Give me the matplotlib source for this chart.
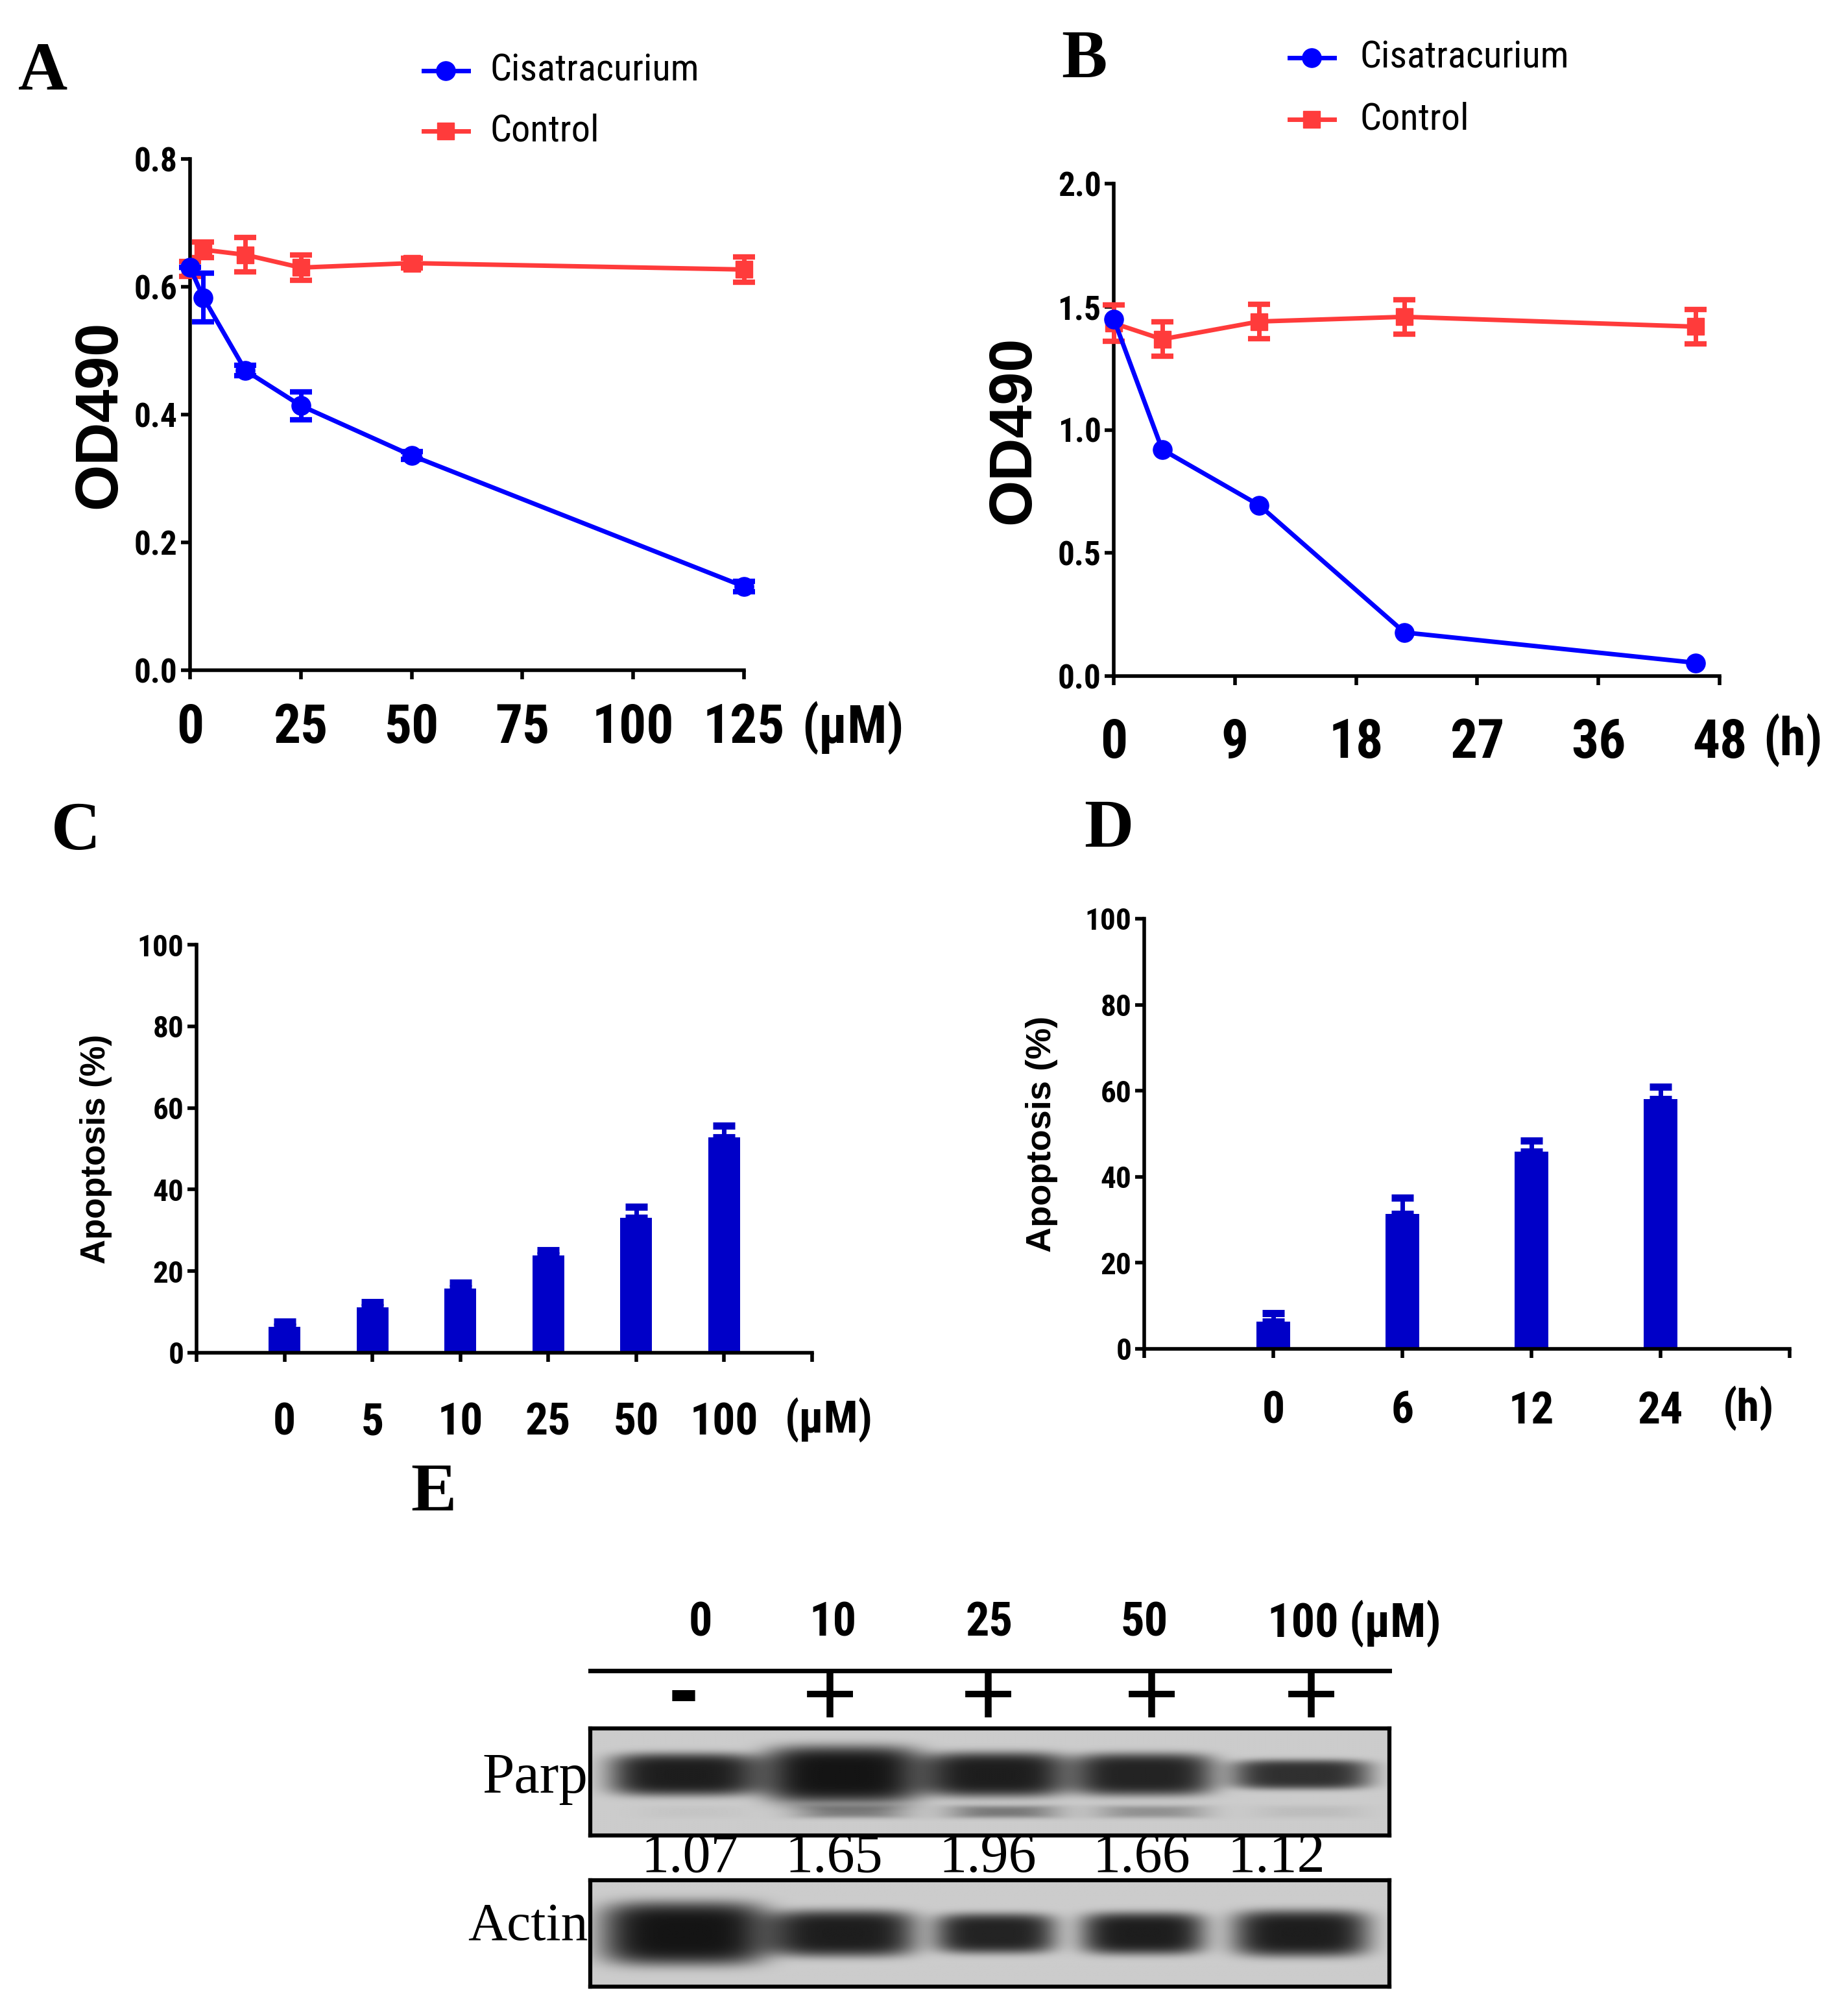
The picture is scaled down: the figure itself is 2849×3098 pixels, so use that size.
import numpy as np
import matplotlib
matplotlib.use("Agg")
import matplotlib.pyplot as plt
from matplotlib.lines import Line2D
from matplotlib import font_manager as fm

# ---------------- data ----------------
# Panel A (dose, µM)
a_dose = [0, 3, 12.5, 25, 50, 125]
a_cis = [0.63, 0.583, 0.469, 0.414, 0.336, 0.131]
a_cis_err = [0.0, 0.038, 0.008, 0.022, 0.006, 0.008]
a_ctl = [0.628, 0.658, 0.650, 0.630, 0.637, 0.627]
a_ctl_err = [0.012, 0.012, 0.027, 0.020, 0.008, 0.020]
a_ticks = [0, 25, 50, 75, 100, 125]

# Panel B (time, h)
b_time = [0, 4, 12, 24, 48]
b_cis = [1.45, 0.92, 0.694, 0.177, 0.054]
b_cis_err = [0.0, 0.01, 0.01, 0.01, 0.01]
b_ctl = [1.433, 1.368, 1.440, 1.459, 1.419]
b_ctl_err = [0.074, 0.070, 0.070, 0.070, 0.070]
b_tick_pos = [0, 10, 20, 30, 40, 50]
b_tick_labels = ["0", "9", "18", "27", "36", "48"]

# Panel C (apoptosis vs dose)
c_labels = ["0", "5", "10", "25", "50", "100"]
c_vals = [6.4, 11.2, 15.7, 23.9, 33.0, 52.8]
c_err = [1.2, 1.2, 1.4, 1.2, 2.7, 2.9]

# Panel D (apoptosis vs time)
d_labels = ["0", "6", "12", "24"]
d_vals = [6.3, 31.3, 45.9, 58.0]
d_err = [2.0, 3.8, 2.5, 3.0]

# Panel E (western blot)
e_doses = ["0", "10", "25", "50", "100 (\u03bcM)"]
e_signs = ["-", "+", "+", "+", "+"]
e_ratio = ["1.07", "1.65", "1.96", "1.66", "1.12"]
parp_full = [0.95, 1.0, 0.95, 0.92, 0.85]
parp_cleaved = [0.04, 0.42, 0.45, 0.32, 0.08]
actin = [1.0, 0.95, 0.92, 0.95, 0.95]

# ---------------- fonts ----------------
avail = {f.name for f in fm.fontManager.ttflist}
cond_stretch = {(f.name, f.stretch) for f in fm.fontManager.ttflist}
NARROW = None
STRETCH = "normal"
for cand in ["Liberation Sans Narrow", "Roboto Condensed", "Open Sans Condensed",
             "Arial Narrow", "DejaVu Sans Condensed"]:
    if cand in avail:
        NARROW = [cand, "Liberation Sans"]
        break
if NARROW is None:
    if ("DejaVu Sans", "condensed") in cond_stretch:
        NARROW = ["DejaVu Sans"]
        STRETCH = "condensed"
    else:
        NARROW = ["Liberation Sans", "DejaVu Sans"]
SANS = ["Liberation Sans", "DejaVu Sans"]
SERIF = ["Liberation Serif", "DejaVu Serif"]

# ---------------- style ----------------
W, H = 2849, 3098
DPI = 100
fig = plt.figure(figsize=(W / DPI, H / DPI), dpi=DPI)
BLUE = "#0000ff"
RED = "#ff3b3b"
BAR = "#0000c8"


def fax(l, t, r, b):
    """axes from pixel box (left, top, right, bottom)."""
    return fig.add_axes([l / W, 1 - b / H, (r - l) / W, (b - t) / H])


def style_axes(ax, ytick_fs, xtick_fs, xpad):
    for s in ["top", "right"]:
        ax.spines[s].set_visible(False)
    for s in ["left", "bottom"]:
        ax.spines[s].set_linewidth(4)
    ax.tick_params(axis="both", direction="out", width=4, length=10, color="black")
    ax.tick_params(axis="y", labelsize=ytick_fs, pad=4)
    ax.tick_params(axis="x", labelsize=xtick_fs, pad=xpad)
    for lab in ax.get_xticklabels() + ax.get_yticklabels():
        lab.set_family(NARROW)
        lab.set_fontstretch(STRETCH)
        lab.set_fontweight("bold")


def panel_letter(ch, x, y):
    fig.text(x / W, 1 - y / H, ch, fontsize=76, fontweight="bold",
             family=SERIF, ha="left", va="baseline")


def ntext(x, y, s, size, **kw):
    fig.text(x / W, 1 - y / H, s, fontsize=size, family=NARROW,
             fontstretch=STRETCH, **kw)


# ---------------- Panel A ----------------
axA = fax(293, 245, 1147, 1033)
axA.errorbar(a_dose, a_ctl, yerr=a_ctl_err, color=RED, marker="s", ms=19,
             lw=5, elinewidth=5, capsize=12, capthick=6, clip_on=False, zorder=3)
axA.errorbar(a_dose, a_cis, yerr=a_cis_err, color=BLUE, marker="o", ms=21,
             lw=5, elinewidth=5, capsize=12, capthick=6, clip_on=False, zorder=4)
axA.set_xlim(0, 125)
axA.set_ylim(0, 0.8)
axA.set_xticks(a_ticks)
axA.set_yticks([0, 0.2, 0.4, 0.6, 0.8])
axA.set_yticklabels(["0.0", "0.2", "0.4", "0.6", "0.8"])
style_axes(axA, 37, 60, 26)
axA.text(-0.163, 0.5, "OD490", transform=axA.transAxes, rotation=90,
         ha="center", va="center", fontsize=66, fontweight="bold", family=SANS)
axA.text(138, -0.113, "(\u03bcM)", transform=axA.get_xaxis_transform(),
         ha="left", va="center", fontsize=58, fontweight="bold", family=NARROW,
         fontstretch=STRETCH)
panel_letter("A", 28, 138)

# legend A
for yy, col, mk, ms, lab in [(109, BLUE, "o", 21, "Cisatracurium"),
                             (202, RED, "s", 19, "Control")]:
    fig.add_artist(Line2D([653 / W, 722 / W], [1 - yy / H] * 2, color=col, lw=5,
                          transform=fig.transFigure))
    fig.add_artist(Line2D([687 / W], [1 - yy / H], color=col, marker=mk, ms=ms,
                          transform=fig.transFigure))
    ntext(756, yy, lab, 42, ha="left", va="center")

# ---------------- Panel B ----------------
axB = fax(1717, 283, 2651, 1042)
axB.errorbar(b_time, b_ctl, yerr=b_ctl_err, color=RED, marker="s", ms=19,
             lw=5, elinewidth=5, capsize=12, capthick=6, clip_on=False, zorder=3)
axB.errorbar(b_time, b_cis, yerr=b_cis_err, color=BLUE, marker="o", ms=21,
             lw=5, elinewidth=5, capsize=0, capthick=0, clip_on=False, zorder=4)
axB.set_xlim(0, 50)
axB.set_ylim(0, 2.0)
axB.set_xticks(b_tick_pos)
axB.set_xticklabels(b_tick_labels)
axB.set_yticks([0, 0.5, 1.0, 1.5, 2.0])
axB.set_yticklabels(["0.0", "0.5", "1.0", "1.5", "2.0"])
style_axes(axB, 37, 60, 36)
axB.text(-0.165, 0.5, "OD490", transform=axB.transAxes, rotation=90,
         ha="center", va="center", fontsize=66, fontweight="bold", family=SANS)
axB.text(53.6, -0.130, "(h)", transform=axB.get_xaxis_transform(),
         ha="left", va="center", fontsize=58, fontweight="bold", family=NARROW,
         fontstretch=STRETCH)
panel_letter("B", 1636, 119)

for yy, col, mk, ms, lab in [(89, BLUE, "o", 21, "Cisatracurium"),
                             (184, RED, "s", 19, "Control")]:
    fig.add_artist(Line2D([1988 / W, 2057 / W], [1 - yy / H] * 2, color=col, lw=5,
                          transform=fig.transFigure))
    fig.add_artist(Line2D([2022 / W], [1 - yy / H], color=col, marker=mk, ms=ms,
                          transform=fig.transFigure))
    ntext(2097, yy, lab, 42, ha="left", va="center")

# ---------------- Panel C ----------------
axC = fax(303, 1456, 1252, 2085)
xc = np.arange(1, len(c_vals) + 1)
axC.bar(xc, c_vals, width=0.36, color=BAR, zorder=2)
axC.errorbar(xc, c_vals, yerr=[np.zeros(len(c_err)), c_err], fmt="none",
             ecolor=BAR, elinewidth=5, capsize=12, capthick=8, zorder=3)
axC.set_xlim(0, len(c_vals) + 1)
axC.set_ylim(0, 100)
axC.set_xticks(np.arange(0, len(c_vals) + 2))
axC.set_xticklabels([""] + c_labels + [""])
axC.set_yticks([0, 20, 40, 60, 80, 100])
style_axes(axC, 34, 50, 44)
axC.text(-0.163, 0.5, "Apoptosis (%)", transform=axC.transAxes, rotation=90,
         ha="center", va="center", fontsize=38, fontweight="bold", family=SANS)
axC.text(6.69, -0.164, "(\u03bcM)", transform=axC.get_xaxis_transform(),
         ha="left", va="center", fontsize=50, fontweight="bold", family=NARROW,
         fontstretch=STRETCH)
panel_letter("C", 79, 1309)

# ---------------- Panel D ----------------
axD = fax(1764, 1416, 2759, 2079)
xd = np.arange(1, len(d_vals) + 1)
axD.bar(xd, d_vals, width=0.26, color=BAR, zorder=2)
axD.errorbar(xd, d_vals, yerr=[np.zeros(len(d_err)), d_err], fmt="none",
             ecolor=BAR, elinewidth=5, capsize=12, capthick=8, zorder=3)
axD.set_xlim(0, len(d_vals) + 1)
axD.set_ylim(0, 100)
axD.set_xticks(np.arange(0, len(d_vals) + 2))
axD.set_xticklabels([""] + d_labels + [""])
axD.set_yticks([0, 20, 40, 60, 80, 100])
style_axes(axD, 34, 50, 36)
axD.text(-0.159, 0.5, "Apoptosis (%)", transform=axD.transAxes, rotation=90,
         ha="center", va="center", fontsize=39, fontweight="bold", family=SANS)
axD.text(4.48, -0.137, "(h)", transform=axD.get_xaxis_transform(),
         ha="left", va="center", fontsize=50, fontweight="bold", family=NARROW,
         fontstretch=STRETCH)
panel_letter("D", 1671, 1305)

# ---------------- Panel E ----------------
panel_letter("E", 633, 2328)
lane_x = [0.118, 0.316, 0.507, 0.692, 0.890]
dose_x = [1080, 1284, 1525, 1764, 1954]
for i, t in enumerate(e_doses):
    ntext(dose_x[i], 2502, t, 52, fontweight="bold",
          ha=("center" if i < 4 else "left"), va="center")
fig.add_artist(Line2D([910 / W, 2142 / W], [1 - 2575 / H] * 2, color="black",
                      lw=5, transform=fig.transFigure))
sign_x = [1054, 1280, 1523, 1776, 2022]
for i, s in enumerate(e_signs):
    if s == "-":
        fig.text(sign_x[i] / W, 1 - 2614 / H, "-", fontsize=100, fontweight="bold",
                 family=SANS, ha="center", va="center")
    else:
        fig.text(sign_x[i] / W, 1 - 2622 / H, "+", fontsize=105,
                 family=SANS, ha="center", va="center")


def blot(ax, full, cleaved, hw, hh, cy, cy2):
    ny, nx = 220, 800
    yy, xx = np.mgrid[0:1:ny * 1j, 0:1:nx * 1j]
    img = np.full((ny, nx), 0.80)
    for i, cx in enumerate(lane_x):
        r = ((np.abs(xx - cx) / hw[i]) ** 4 + (np.abs(yy - cy) / hh[i]) ** 4) ** 0.25
        img -= 0.72 * full[i] * np.exp(-r ** 5)
        if cleaved is not None:
            r2 = ((np.abs(xx - cx - 0.01) / 0.07) ** 4 + (np.abs(yy - cy2) / 0.06) ** 4) ** 0.25
            img -= 0.72 * cleaved[i] * np.exp(-r2 ** 3)
    img = np.clip(img, 0.08, 1)
    ax.imshow(img, cmap="gray", vmin=0, vmax=1, extent=(0, 1, 1, 0),
              aspect="auto", interpolation="bilinear")
    ax.set_xticks([])
    ax.set_yticks([])
    for s in ax.spines.values():
        s.set_linewidth(4.5)


axP = fax(910, 2664, 2142, 2829)
blot(axP, parp_full, parp_cleaved,
     hw=[0.095, 0.10, 0.090, 0.090, 0.088], hh=[0.20, 0.27, 0.21, 0.20, 0.14],
     cy=0.43, cy2=0.78)
axAc = fax(910, 2898, 2142, 3062)
blot(axAc, actin, None,
     hw=[0.105, 0.092, 0.076, 0.078, 0.086], hh=[0.30, 0.22, 0.19, 0.20, 0.22],
     cy=0.50, cy2=0.8)

ratio_x = [1064, 1286, 1523, 1760, 1968]
for i, t in enumerate(e_ratio):
    fig.text(ratio_x[i] / W, 1 - 2864 / H, t, fontsize=62, family=SERIF,
             ha="center", va="center")
fig.text(906 / W, 1 - 2742 / H, "Parp", fontsize=64, family=SERIF,
         ha="right", va="center")
fig.text(906 / W, 1 - 2970 / H, "Actin", fontsize=60, family=SERIF,
         ha="right", va="center")

fig.savefig("out.png", dpi=DPI, facecolor="white")
